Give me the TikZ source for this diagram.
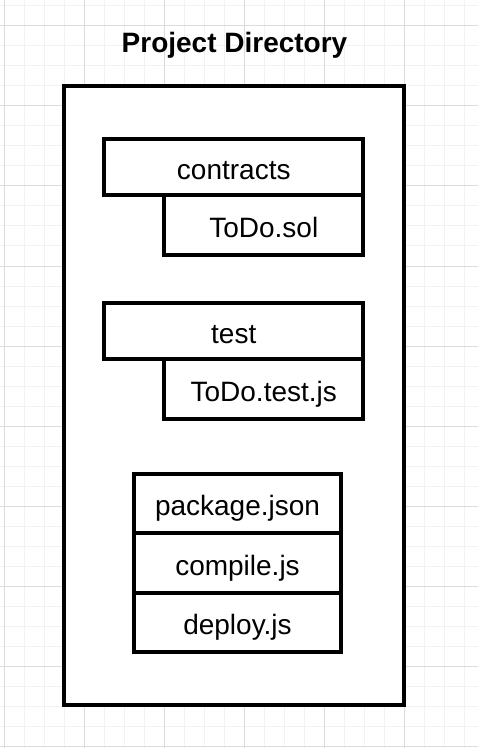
\documentclass[tikz,border=0pt]{standalone}
\usepackage{fontspec}
\setmainfont{Liberation Sans}
\usepackage{xcolor}
\usetikzlibrary{positioning}
\definecolor{gridmajor}{HTML}{DCDCDC}
\definecolor{gridminor}{HTML}{F2F2F2}
\tikzset{
  % background grid
  minorline/.style={gridminor,line width=0.75pt},
  majorline/.style={gridmajor,line width=0.75pt},
  % boxes
  dirframe/.style={draw,line width=3pt,fill=white,outer sep=0pt,inner sep=0pt},
  entry/.style={draw,line width=3pt,fill=white,outer sep=0pt,inner sep=0pt,
    text height=18pt,text depth=0pt,font=\fontsize{21}{25}\selectfont},
  folderbox/.style={entry,minimum width=193.9pt,minimum height=42pt},
  filebox/.style={entry,minimum width=148.9pt,minimum height=45pt},
  stackbox/.style={entry,minimum width=155.25pt,minimum height=44.5pt},
  titletext/.style={font=\fontsize{21}{25}\selectfont\bfseries},
}

\begin{document}
\begin{tikzpicture}[x=0.75pt,y=-0.75pt]
%% ===== background with grid =====
\fill[white] (0,0) rectangle (478,748);
\useasboundingbox (0,0) rectangle (478,748);
\foreach \gx in {4,24,...,464} \draw[minorline] (\gx,0) -- (\gx,748);
\foreach \gy in {6,26,...,746} \draw[minorline] (0,\gy) -- (478,\gy);
\foreach \gx in {4,84,...,404} \draw[majorline] (\gx,0) -- (\gx,748);
\foreach \gy in {26,106,...,746} \draw[majorline] (0,\gy) -- (478,\gy);

%% ===== outer frame and title =====
\node[dirframe,minimum width=255pt,minimum height=464.25pt] (project) at (234,395.5) {};
\node[titletext,anchor=base] (title) at (234.5,53) {Project Directory};

%% ===== contracts =====
\node[folderbox] (contracts) at (233.75,167.5) {contracts};
\node[filebox,anchor=north east] (todosol) at (contracts.south east) {ToDo.sol};

%% ===== test =====
\node[folderbox] (test) at (233.75,331) {test};
\node[filebox,anchor=north east] (todotest) at (test.south east) {ToDo.test.js};

%% ===== top level files =====
\node[stackbox] (package) at (237.5,503.7) {package.json};
\node[stackbox,below=0pt of package] (compile) {compile.js};
\node[stackbox,below=0pt of compile] (deploy) {deploy.js};
\end{tikzpicture}
\end{document}
